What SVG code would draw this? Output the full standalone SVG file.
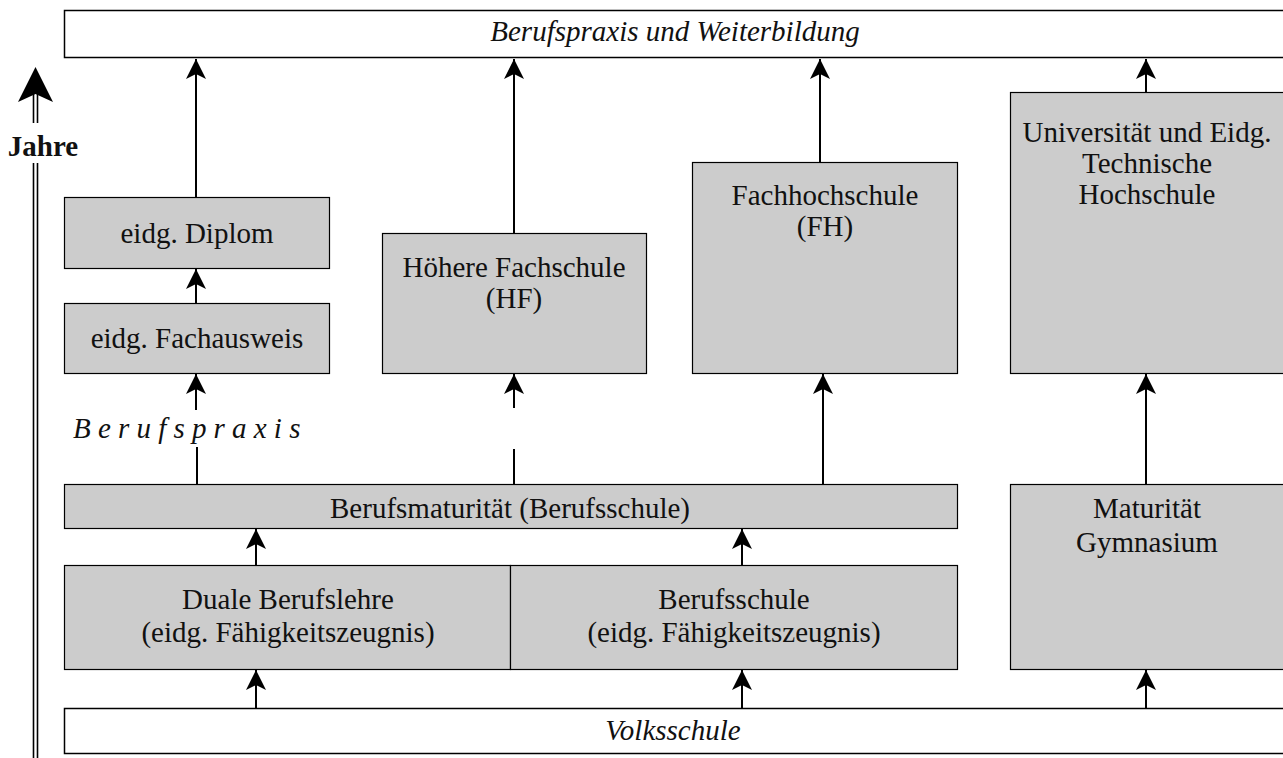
<svg xmlns="http://www.w3.org/2000/svg" width="1283" height="758" viewBox="0 0 1283 758">
<style>
.box{fill:#cccccc;stroke:#000;stroke-width:1.2}
.wbox{fill:#fff;stroke:#000;stroke-width:1.5}
.t{font-family:"Liberation Serif","Times New Roman",serif;font-size:29px;fill:#111;text-anchor:middle}
.i{font-style:italic}
.c{stroke:#000;stroke-width:2;fill:none}
</style>
<defs>
<marker id="ah" markerUnits="userSpaceOnUse" viewBox="-20 -11 21 22" refX="0" refY="0" markerWidth="21" markerHeight="22" orient="auto">
<path d="M0,0 L-20,-10 L-15,0 L-20,10 Z" fill="#000"/>
</marker>
</defs>
<rect width="1283" height="758" fill="#fff"/>

<g id="jahre">
<line x1="33.5" y1="92" x2="33.5" y2="123" stroke="#000" stroke-width="1.6"/>
<line x1="37.5" y1="92" x2="37.5" y2="123" stroke="#000" stroke-width="1.6"/>
<line x1="33.5" y1="163" x2="33.5" y2="758" stroke="#000" stroke-width="1.6"/>
<line x1="37.5" y1="163" x2="37.5" y2="758" stroke="#000" stroke-width="1.6"/>
<path d="M35.5,67 L53,102 L35.5,94 L18,102 Z" fill="#000"/>
<text x="43" y="156" class="t" style="font-weight:bold">Jahre</text>
</g>

<g id="weiterbildung">
<rect class="wbox" x="64.5" y="10.5" width="1230" height="47"/>
<text x="675" y="41" class="t i">Berufspraxis und Weiterbildung</text>
</g>

<g id="diplom">
<rect class="box" x="64.5" y="197.5" width="265" height="71"/>
<text x="197" y="243" class="t">eidg. Diplom</text>
</g>

<g id="fachausweis">
<rect class="box" x="64.5" y="303.5" width="265" height="70"/>
<text x="197" y="348" class="t">eidg. Fachausweis</text>
</g>

<g id="hf">
<rect class="box" x="382.5" y="233.5" width="264" height="140"/>
<text x="514" y="277" class="t">Höhere Fachschule</text>
<text x="514" y="308" class="t">(HF)</text>
</g>

<g id="fh">
<rect class="box" x="692.5" y="162.5" width="265" height="211"/>
<text x="825" y="205" class="t">Fachhochschule</text>
<text x="825" y="236" class="t">(FH)</text>
</g>

<g id="uni">
<rect class="box" x="1010.5" y="92.5" width="290" height="281"/>
<text x="1147" y="142" class="t">Universität und Eidg.</text>
<text x="1147" y="173" class="t">Technische</text>
<text x="1147" y="204" class="t">Hochschule</text>
</g>

<g id="berufspraxis">
<text x="73" y="438" class="t i" style="text-anchor:start;letter-spacing:7.2px">Berufspraxis</text>
</g>

<g id="berufsmaturitaet">
<rect class="box" x="64.5" y="484.5" width="893" height="44"/>
<text x="510" y="518" class="t">Berufsmaturität (Berufsschule)</text>
</g>

<g id="maturitaet">
<rect class="box" x="1010.5" y="484.5" width="290" height="185"/>
<text x="1147" y="518" class="t">Maturität</text>
<text x="1147" y="552" class="t">Gymnasium</text>
</g>

<g id="duale">
<rect class="box" x="64.5" y="565.5" width="446" height="104"/>
<text x="288" y="609" class="t">Duale Berufslehre</text>
<text x="288" y="642" class="t">(eidg. Fähigkeitszeugnis)</text>
</g>

<g id="berufsschule">
<rect class="box" x="510.5" y="565.5" width="447" height="104"/>
<text x="734" y="609" class="t">Berufsschule</text>
<text x="734" y="642" class="t">(eidg. Fähigkeitszeugnis)</text>
</g>

<g id="volksschule">
<rect class="wbox" x="64.5" y="708.5" width="1230" height="45"/>
<text x="673" y="740" class="t i">Volksschule</text>
</g>

<g id="connectors">
<line class="c" x1="196" y1="197" x2="196" y2="59" marker-end="url(#ah)"/>
<line class="c" x1="196" y1="303" x2="196" y2="269" marker-end="url(#ah)"/>
<line class="c" x1="196" y1="410" x2="196" y2="374" marker-end="url(#ah)"/>
<line class="c" x1="197" y1="447" x2="197" y2="484"/>
<line class="c" x1="514" y1="233" x2="514" y2="59" marker-end="url(#ah)"/>
<line class="c" x1="514" y1="408" x2="514" y2="374" marker-end="url(#ah)"/>
<line class="c" x1="514" y1="449" x2="514" y2="484"/>
<line class="c" x1="820" y1="162" x2="820" y2="59" marker-end="url(#ah)"/>
<line class="c" x1="823" y1="484" x2="823" y2="374" marker-end="url(#ah)"/>
<line class="c" x1="1146" y1="92" x2="1146" y2="59" marker-end="url(#ah)"/>
<line class="c" x1="1146" y1="484" x2="1146" y2="374" marker-end="url(#ah)"/>
<line class="c" x1="256" y1="565" x2="256" y2="529" marker-end="url(#ah)"/>
<line class="c" x1="742" y1="565" x2="742" y2="529" marker-end="url(#ah)"/>
<line class="c" x1="256" y1="708" x2="256" y2="670" marker-end="url(#ah)"/>
<line class="c" x1="742" y1="708" x2="742" y2="670" marker-end="url(#ah)"/>
<line class="c" x1="1146" y1="708" x2="1146" y2="670" marker-end="url(#ah)"/>
</g>
</svg>
